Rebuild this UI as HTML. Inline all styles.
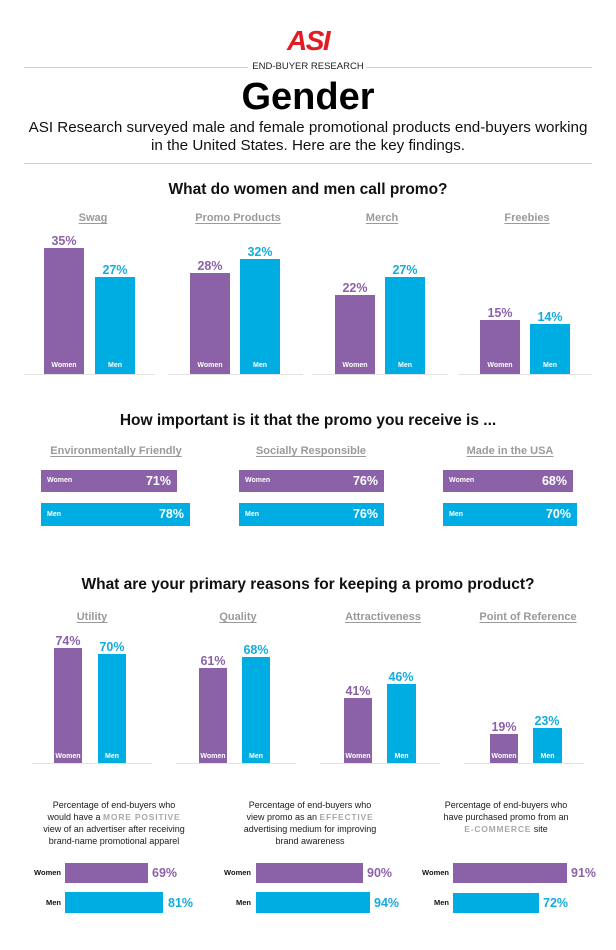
<!DOCTYPE html>
<html><head><meta charset="utf-8">
<style>
*{margin:0;padding:0;box-sizing:border-box}
body{width:616px;height:950px;background:#fff;position:relative;overflow:hidden;font-family:"Liberation Sans",sans-serif;color:#111}
.a{position:absolute;white-space:nowrap}
.c{position:absolute;white-space:nowrap;text-align:center;width:400px}
.w{background:#8B62A8}
.m{background:#00ADE2}
.pv{color:#8B62A8}
.bv{color:#14ACE0}
.cat{font-weight:bold;font-size:11px;line-height:14px;color:#9a9a9a;text-decoration:underline;text-decoration-thickness:1px;text-underline-offset:2px}
.h{font-weight:bold;font-size:15.5px;line-height:20px;color:#111}
.val{font-weight:bold;font-size:12.5px;line-height:12px;text-align:center;width:60px}
.in{font-weight:bold;font-size:7px;line-height:8px;color:#fff;text-align:center}
.base{position:absolute;height:1px;background:#e2e2e2}
.hb{position:absolute}
.hb .l{position:absolute;left:6px;top:0;font-weight:bold;font-size:7px;color:#fff}
.hb .v{position:absolute;right:6px;top:0;font-weight:bold;font-size:12.5px;color:#fff}
.p{font-size:9px;line-height:12px;color:#1a1a1a}
.em{font-weight:bold;color:#a8a8a8;letter-spacing:0.8px;font-size:8.5px}
.lab{font-weight:bold;font-size:7.5px;line-height:10px;color:#111;text-align:right;width:50px}
.sv{font-weight:bold;font-size:12.5px;line-height:14px}
</style></head><body>

<!-- logo -->
<div class="a" style="left:287px;top:26px;font-size:28px;line-height:30px;font-weight:900;color:#E31B23;letter-spacing:-1.5px;font-style:italic">ASI</div>

<!-- header rule -->
<div class="a" style="left:24px;top:67px;width:224px;height:1px;background:#cfcfcf"></div>
<div class="a" style="left:366px;top:67px;width:226px;height:1px;background:#cfcfcf"></div>
<div class="c" style="left:108px;top:61px;font-size:9.5px;line-height:12px;color:#222">END-BUYER RESEARCH</div>

<div class="c" style="left:108px;top:78px;font-size:38px;line-height:38px;font-weight:bold;color:#000">Gender</div>
<div class="c" style="left:8px;width:600px;top:119px;font-size:15.2px;line-height:18px;color:#111">ASI Research surveyed male and female promotional products end-buyers working<br>in the United States. Here are the key findings.</div>
<div class="a" style="left:24px;top:163px;width:568px;height:1px;background:#cfcfcf"></div>

<!-- Section 1 -->
<div class="c h" style="left:108px;top:180px">What do women and men call promo?</div>
<div class="c cat" style="left:-107px;top:211px">Swag</div>
<div class="c cat" style="left:38px;top:211px">Promo Products</div>
<div class="c cat" style="left:182px;top:211px">Merch</div>
<div class="c cat" style="left:327px;top:211px">Freebies</div>

<div class="base" style="left:24px;top:374px;width:131px"></div>
<div class="base" style="left:168px;top:374px;width:135px"></div>
<div class="base" style="left:312px;top:374px;width:136px"></div>
<div class="base" style="left:458px;top:374px;width:134px"></div>

<!-- Swag -->
<div class="a w" style="left:44px;top:248px;width:40px;height:126px"></div>
<div class="a m" style="left:95px;top:277px;width:40px;height:97px"></div>
<div class="a val pv" style="left:34px;top:235px">35%</div>
<div class="a val bv" style="left:85px;top:264px">27%</div>
<div class="a in" style="left:44px;top:362px;width:40px">Women</div>
<div class="a in" style="left:95px;top:362px;width:40px">Men</div>
<!-- Promo -->
<div class="a w" style="left:190px;top:273px;width:40px;height:101px"></div>
<div class="a m" style="left:240px;top:259px;width:40px;height:115px"></div>
<div class="a val pv" style="left:180px;top:260px">28%</div>
<div class="a val bv" style="left:230px;top:246px">32%</div>
<div class="a in" style="left:190px;top:362px;width:40px">Women</div>
<div class="a in" style="left:240px;top:362px;width:40px">Men</div>
<!-- Merch -->
<div class="a w" style="left:335px;top:295px;width:40px;height:79px"></div>
<div class="a m" style="left:385px;top:277px;width:40px;height:97px"></div>
<div class="a val pv" style="left:325px;top:282px">22%</div>
<div class="a val bv" style="left:375px;top:264px">27%</div>
<div class="a in" style="left:335px;top:362px;width:40px">Women</div>
<div class="a in" style="left:385px;top:362px;width:40px">Men</div>
<!-- Freebies -->
<div class="a w" style="left:480px;top:320px;width:40px;height:54px"></div>
<div class="a m" style="left:530px;top:324px;width:40px;height:50px"></div>
<div class="a val pv" style="left:470px;top:307px">15%</div>
<div class="a val bv" style="left:520px;top:311px">14%</div>
<div class="a in" style="left:480px;top:362px;width:40px">Women</div>
<div class="a in" style="left:530px;top:362px;width:40px">Men</div>

<!-- Section 2 -->
<div class="c h" style="left:108px;top:411px">How important is it that the promo you receive is ...</div>
<div class="c cat" style="left:-84px;top:444px">Environmentally Friendly</div>
<div class="c cat" style="left:111px;top:444px">Socially Responsible</div>
<div class="c cat" style="left:310px;top:444px">Made in the USA</div>

<div class="hb w" style="left:41px;top:470px;width:136px;height:22px"><span class="l" style="line-height:22px">Women</span><span class="v" style="line-height:22px">71%</span></div>
<div class="hb m" style="left:41px;top:503px;width:149px;height:23px"><span class="l" style="line-height:23px">Men</span><span class="v" style="line-height:23px">78%</span></div>
<div class="hb w" style="left:239px;top:470px;width:145px;height:22px"><span class="l" style="line-height:22px">Women</span><span class="v" style="line-height:22px">76%</span></div>
<div class="hb m" style="left:239px;top:503px;width:145px;height:23px"><span class="l" style="line-height:23px">Men</span><span class="v" style="line-height:23px">76%</span></div>
<div class="hb w" style="left:443px;top:470px;width:130px;height:22px"><span class="l" style="line-height:22px">Women</span><span class="v" style="line-height:22px">68%</span></div>
<div class="hb m" style="left:443px;top:503px;width:134px;height:23px"><span class="l" style="line-height:23px">Men</span><span class="v" style="line-height:23px">70%</span></div>

<!-- Section 3 -->
<div class="c h" style="left:8px;width:600px;top:575px">What are your primary reasons for keeping a promo product?</div>
<div class="c cat" style="left:-108px;top:610px">Utility</div>
<div class="c cat" style="left:38px;top:610px">Quality</div>
<div class="c cat" style="left:183px;top:610px">Attractiveness</div>
<div class="c cat" style="left:328px;top:610px">Point of Reference</div>

<div class="base" style="left:32px;top:763px;width:120px"></div>
<div class="base" style="left:176px;top:763px;width:120px"></div>
<div class="base" style="left:320px;top:763px;width:120px"></div>
<div class="base" style="left:464px;top:763px;width:120px"></div>

<div class="a w" style="left:54px;top:648px;width:28px;height:115px"></div>
<div class="a m" style="left:98px;top:654px;width:28px;height:109px"></div>
<div class="a val pv" style="left:38px;top:635px">74%</div>
<div class="a val bv" style="left:82px;top:641px">70%</div>
<div class="a in" style="left:50px;top:753px;width:36px">Women</div>
<div class="a in" style="left:98px;top:753px;width:28px">Men</div>

<div class="a w" style="left:199px;top:668px;width:28px;height:95px"></div>
<div class="a m" style="left:242px;top:657px;width:28px;height:106px"></div>
<div class="a val pv" style="left:183px;top:655px">61%</div>
<div class="a val bv" style="left:226px;top:644px">68%</div>
<div class="a in" style="left:195px;top:753px;width:36px">Women</div>
<div class="a in" style="left:242px;top:753px;width:28px">Men</div>

<div class="a w" style="left:344px;top:698px;width:28px;height:65px"></div>
<div class="a m" style="left:387px;top:684px;width:29px;height:79px"></div>
<div class="a val pv" style="left:328px;top:685px">41%</div>
<div class="a val bv" style="left:371px;top:671px">46%</div>
<div class="a in" style="left:340px;top:753px;width:36px">Women</div>
<div class="a in" style="left:387px;top:753px;width:29px">Men</div>

<div class="a w" style="left:490px;top:734px;width:28px;height:29px"></div>
<div class="a m" style="left:533px;top:728px;width:29px;height:35px"></div>
<div class="a val pv" style="left:474px;top:721px">19%</div>
<div class="a val bv" style="left:517px;top:715px">23%</div>
<div class="a in" style="left:486px;top:753px;width:36px">Women</div>
<div class="a in" style="left:533px;top:753px;width:29px">Men</div>

<!-- Section 4 -->
<div class="c p" style="left:-86px;top:799px">Percentage of end-buyers who<br>would have a <span class="em">MORE POSITIVE</span><br>view of an advertiser after receiving<br>brand-name promotional apparel</div>
<div class="c p" style="left:110px;top:799px">Percentage of end-buyers who<br>view promo as an <span class="em">EFFECTIVE</span><br>advertising medium for improving<br>brand awareness</div>
<div class="c p" style="left:306px;top:799px">Percentage of end-buyers who<br>have purchased promo from an<br><span class="em">E-COMMERCE</span> site</div>

<!-- block 1 -->
<div class="a lab" style="left:11px;top:868px">Women</div>
<div class="a lab" style="left:11px;top:898px">Men</div>
<div class="a w" style="left:65px;top:863px;width:83px;height:20px"></div>
<div class="a m" style="left:65px;top:892px;width:98px;height:21px"></div>
<div class="a sv pv" style="left:152px;top:866px">69%</div>
<div class="a sv bv" style="left:168px;top:896px">81%</div>
<!-- block 2 -->
<div class="a lab" style="left:201px;top:868px">Women</div>
<div class="a lab" style="left:201px;top:898px">Men</div>
<div class="a w" style="left:256px;top:863px;width:107px;height:20px"></div>
<div class="a m" style="left:256px;top:892px;width:114px;height:21px"></div>
<div class="a sv pv" style="left:367px;top:866px">90%</div>
<div class="a sv bv" style="left:374px;top:896px">94%</div>
<!-- block 3 -->
<div class="a lab" style="left:399px;top:868px">Women</div>
<div class="a lab" style="left:399px;top:898px">Men</div>
<div class="a w" style="left:453px;top:863px;width:114px;height:20px"></div>
<div class="a m" style="left:453px;top:893px;width:86px;height:20px"></div>
<div class="a sv pv" style="left:571px;top:866px">91%</div>
<div class="a sv bv" style="left:543px;top:896px">72%</div>

</body></html>
